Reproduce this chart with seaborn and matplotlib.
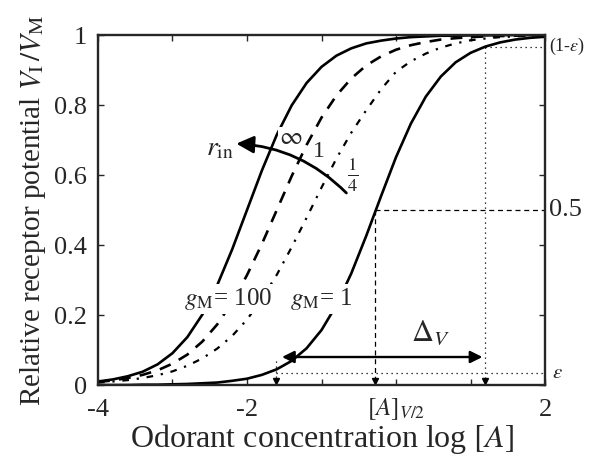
import numpy as np
import pandas as pd
import matplotlib
matplotlib.use('Agg')
import matplotlib.pyplot as plt
import seaborn as sns
from matplotlib.patches import FancyArrowPatch

# log concentration grid
log_a = [-4.0, -3.8, -3.6, -3.4, -3.2, -3.0, -2.8, -2.6, -2.4, -2.2,
         -2.0, -1.8, -1.6, -1.4, -1.2, -1.0, -0.8, -0.6, -0.4, -0.2,
         0.0, 0.2, 0.4, 0.6, 0.8, 1.0, 1.2, 1.4, 1.6, 1.8, 2.0]

# gM = 100, r_in = infinity (solid)
v_inf = [0.010, 0.016, 0.025, 0.038, 0.059, 0.091, 0.137, 0.201, 0.285, 0.387,
         0.500, 0.613, 0.715, 0.799, 0.863, 0.909, 0.941, 0.962, 0.976, 0.984,
         0.990, 0.994, 0.996, 0.998, 0.998, 0.999, 0.999, 1.000, 1.000, 1.000, 1.000]
# gM = 100, r_in = 1 (dashed)
v_one = [0.009, 0.013, 0.020, 0.029, 0.042, 0.061, 0.087, 0.124, 0.173, 0.236,
         0.314, 0.403, 0.500, 0.597, 0.686, 0.764, 0.827, 0.876, 0.913, 0.939,
         0.958, 0.971, 0.980, 0.987, 0.991, 0.994, 0.996, 0.997, 0.998, 0.999, 0.999]
# gM = 100, r_in = 1/4 (dash-dot)
v_quarter = [0.007, 0.010, 0.014, 0.020, 0.028, 0.039, 0.055, 0.076, 0.104, 0.140,
             0.187, 0.246, 0.315, 0.394, 0.478, 0.564, 0.647, 0.721, 0.785, 0.845,
             0.895, 0.925, 0.947, 0.964, 0.976, 0.985, 0.990, 0.994, 0.996, 0.998, 0.999]
# gM = 1 (solid)
v_g1 = [0.000, 0.000, 0.000, 0.001, 0.001, 0.002, 0.003, 0.005, 0.007, 0.012,
        0.018, 0.029, 0.045, 0.069, 0.105, 0.157, 0.228, 0.319, 0.426, 0.540,
        0.651, 0.747, 0.824, 0.881, 0.922, 0.949, 0.967, 0.979, 0.987, 0.992, 0.995]

eps = 0.034
x_half = -0.28
x_lo = -1.61
x_hi = 1.19
delta_y = 0.08

df = pd.DataFrame({'x': log_a, 'inf': v_inf, 'one': v_one,
                   'quarter': v_quarter, 'g1': v_g1})

sns.set_style('ticks')
plt.rcParams['font.family'] = ['Liberation Serif', 'DejaVu Serif']
plt.rcParams['mathtext.fontset'] = 'stix'

fig = plt.figure(figsize=(5.91, 4.59), dpi=100)
ax = fig.add_axes([0.1658, 0.1612, 0.7564, 0.7625])

lw = 1.9
sns.lineplot(data=df, x='x', y='inf', ax=ax, color='k', lw=lw)
sns.lineplot(data=df, x='x', y='one', ax=ax, color='k', lw=lw, linestyle=(0, (4.5, 3.5)))
sns.lineplot(data=df, x='x', y='quarter', ax=ax, color='k', lw=1.6,
             linestyle=(0, (3, 3.5, 1, 3.5)))
sns.lineplot(data=df, x='x', y='g1', ax=ax, color='k', lw=lw)

# guide lines
ax.plot([x_half, 2], [0.5, 0.5], color='k', lw=0.9, ls=(0, (4, 3)))
ax.plot([x_half, x_half], [0.5, 0.0], color='k', lw=0.9, ls=(0, (4, 3)))
ax.plot([x_lo, 2], [eps, eps], color='k', lw=0.9, ls=(0, (1, 3)))
ax.plot([x_hi, 2], [1 - eps, 1 - eps], color='k', lw=0.9, ls=(0, (1, 3)))
ax.plot([x_hi, x_hi], [1 - eps, 0.0], color='k', lw=0.9, ls=(0, (1, 3)))
ax.plot([x_lo, x_lo], [0.07, 0.0], color='k', lw=0.9, ls=(0, (1, 3)))
for xv in [x_lo, x_half, x_hi]:
    ax.plot([xv], [0.012], marker='v', color='k', ms=5, clip_on=False)

# delta arrow
ax.annotate('', xy=(x_lo + 0.08, delta_y), xytext=(x_hi - 0.03, delta_y),
            arrowprops=dict(arrowstyle='<|-|>', color='k', lw=1.7,
                            mutation_scale=18, shrinkA=0, shrinkB=0))
ax.text(0.46, 0.148, r'$\Delta_V$', fontsize=22, ha='center', va='center')

# r_in arrow
arr = FancyArrowPatch((-0.64, 0.543), (-2.18, 0.69),
                      connectionstyle='arc3,rad=0.2', arrowstyle='-|>',
                      mutation_scale=26, lw=2.0, color='k', zorder=6)
ax.add_patch(arr)
wb = dict(facecolor='white', edgecolor='none', pad=0.5)
ax.text(-2.36, 0.675, r'$r_{\rm in}$', fontsize=20, ha='center', va='center')
ax.text(-1.42, 0.705, r'$\infty$', fontsize=18, ha='center', va='center', bbox=wb, zorder=5)
ax.text(-1.03, 0.668, '1', fontsize=17, ha='center', va='center', bbox=wb, zorder=5)
ax.text(-0.58, 0.6, r'$\frac{1}{4}$', fontsize=19, ha='center', va='center', bbox=wb, zorder=5)

wb2 = dict(facecolor='white', edgecolor='none', pad=1.5)
ax.text(-2.25, 0.245, r'$g_{\rm M}$= 100', fontsize=18, ha='center', va='center',
        bbox=wb2, zorder=5)
ax.text(-1.0, 0.245, r'$g_{\rm M}$= 1', fontsize=18, ha='center', va='center',
        bbox=wb2, zorder=5)

# right side labels
ax.text(2.06, 1 - eps, r'(1-$\varepsilon$)', fontsize=13, ha='left', va='center')
ax.text(2.05, 0.5, '0.5', fontsize=19, ha='left', va='center')
ax.text(2.1, eps, r'$\varepsilon$', fontsize=15, ha='left', va='center')

# x position label for the half point
ax.text(0.0, -0.07, r'$[A]_{V/2}$', fontsize=18, ha='center', va='center')

ax.set_xlim(-4, 2)
ax.set_ylim(0, 1)
ax.set_xticks([-4, -3, -2, -1, 0, 1, 2])
ax.set_xticklabels(['-4', '', '-2', '', '', '', '2'])
ax.set_yticks([0, 0.2, 0.4, 0.6, 0.8, 1])
ax.set_yticklabels(['0', '0.2', '0.4', '0.6', '0.8', '1'])
ax.tick_params(direction='in', top=True, right=True, labelsize=19, length=4, width=1)
ax.tick_params(axis='x', pad=10)
ax.tick_params(axis='y', pad=8)
for s in ax.spines.values():
    s.set_linewidth(1.7)
    s.set_visible(True)
ax.set_xlabel('Odorant concentration log $[A]$', fontsize=23, labelpad=1)
ax.set_ylabel(r'Relative receptor potential $V_{\rm I}\,/V_{\rm M}$', fontsize=21, labelpad=4)

fig.savefig('out.png', dpi=100)
